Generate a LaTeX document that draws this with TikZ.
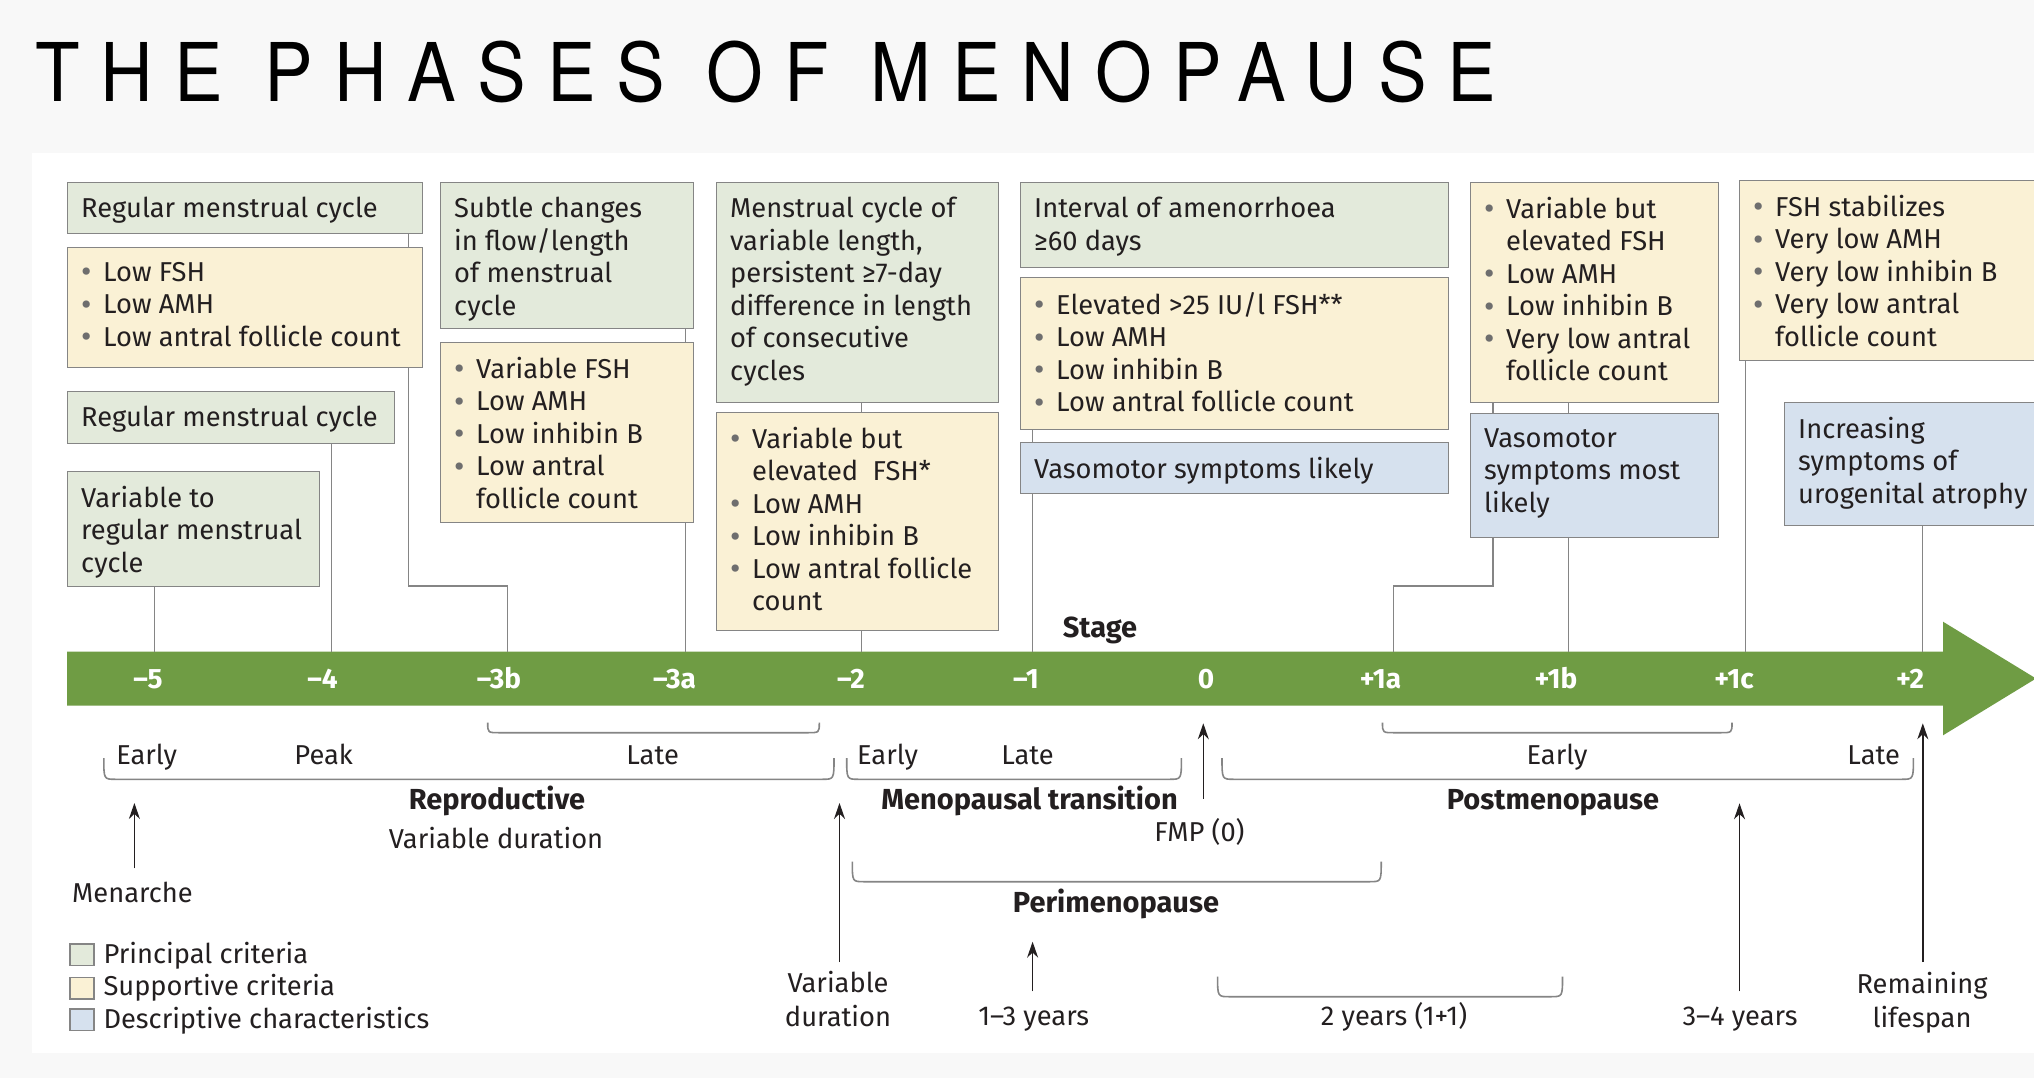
\documentclass[tikz,border=0pt]{standalone}
\usepackage{graphicx}
\usepackage{fontspec}
\usetikzlibrary{arrows.meta}
\setmainfont{Fira Sans}
\newfontfamily\titlefont[FakeStretch=0.9,LetterSpace=26]{TeX Gyre Heros}
\definecolor{gfill}{HTML}{E3EADB}
\definecolor{yfill}{HTML}{FAF1D5}
\definecolor{bfill}{HTML}{D6E1EE}
\definecolor{edge}{HTML}{858585}
\definecolor{barg}{HTML}{6F9C44}
\definecolor{ink}{HTML}{231F20}
\definecolor{dotc}{HTML}{6E6E6E}
\definecolor{bgc}{HTML}{F8F8F8}
\newcommand\bodyfont{\fontsize{27.3}{32.5}\selectfont}
\newcommand\bl{\makebox[22pt][l]{\raisebox{-1.5pt}{\textcolor{dotc}{\fontsize{32}{32}\selectfont •}}}}
\newcommand\ind{\makebox[22pt][l]{}}
\newcommand\mybox[7]{%
  \node[#2, minimum width=#5pt-#3pt, minimum height=#6pt-#4pt] (#1) at (#3,#4) {};
  \node[txt] (#1-t) at ([xshift=14pt,yshift=-15pt]#1.north west) {#7};
}
\newcommand\mybrace[4]{%
  \draw[bracel] (#1,#3) .. controls (#1,#4) .. (#1+12,#4) -- (#2-12,#4) .. controls (#2,#4) .. (#2,#3);
}
\tikzset{
  boxb/.style={draw=edge, line width=1.4pt, rectangle, inner sep=0pt, anchor=north west},
  gbox/.style={boxb, fill=gfill},
  ybox/.style={boxb, fill=yfill},
  bbox/.style={boxb, fill=bfill},
  txt/.style={anchor=north west, inner sep=0pt, align=left, font=\bodyfont, text=ink},
  conn/.style={draw=edge, line width=1.3pt},
  bracel/.style={draw=edge, line width=1.6pt},
  lbl/.style={anchor=base, inner sep=0pt, font=\bodyfont, text=ink},
  blbl/.style={anchor=base, inner sep=0pt, font=\fontsize{29}{32}\selectfont\bfseries, text=ink},
  two/.style={anchor=north, inner sep=0pt, align=center, font=\fontsize{27.3}{34}\selectfont, text=ink},
  stg/.style={anchor=base, inner sep=0pt, font=\fontsize{28}{28}\selectfont\bfseries, text=white},
  arr/.style={-{Stealth[length=16pt,width=11pt]}, line width=1.4pt, draw=ink},
}
\begin{document}
\begin{tikzpicture}[x=1pt,y=-1pt]
\useasboundingbox (0,0) rectangle (2034,1078);
\fill[bgc] (0,0) rectangle (2034,1078);
\fill[white] (32,153) rectangle (2034,1053);

% title
\node[anchor=base west, inner sep=0pt, font=\titlefont\fontsize{81}{81}\selectfont, text=black] (title) at (35,101.7) {THE PHASES OF MENOPAUSE};

% stage bar
\fill[barg] (67,651.5) -- (1943,651.5) -- (1943,621.7) -- (2036,678.5) -- (1943,735.3) -- (1943,705.5) -- (67,705.5) -- cycle;
\coordinate (t5) at (154.7,651.5);
\coordinate (t4) at (331.3,651.5);
\coordinate (t3b) at (507.7,651.5);
\coordinate (t3a) at (685.2,651.5);
\coordinate (t2) at (861.5,651.5);
\coordinate (t1) at (1032.8,651.5);
\coordinate (t1a) at (1393.7,651.5);
\coordinate (t1b) at (1568.4,651.5);
\coordinate (t1c) at (1745.6,651.5);
\coordinate (t2p) at (1922.6,651.5);

\node[stg] (s-5) at (148,688.5) {–5};
\node[stg] (s-4) at (322.5,688.5) {–4};
\node[stg] (s-3b) at (499,688.5) {–3b};
\node[stg] (s-3a) at (674.6,688.5) {–3a};
\node[stg] (s-2) at (851,688.5) {–2};
\node[stg] (s-1) at (1026,688.5) {–1};
\node[stg] (s0) at (1206,688.5) {0};
\node[stg] (s1a) at (1380.5,688.5) {+1a};
\node[stg] (s1b) at (1556,688.5) {+1b};
\node[stg] (s1c) at (1734,688.5) {+1c};
\node[stg] (s2) at (1910,688.5) {+2};
\node[blbl] (stage) at (1100,637) {Stage};

% boxes
\mybox{a1}{gbox}{67}{182}{422}{233}{Regular menstrual cycle}
\mybox{a2}{ybox}{67}{247}{422}{367}{\bl Low FSH\\\bl Low AMH\\\bl Low antral follicle count}
\mybox{a3}{gbox}{67}{391}{394}{443}{Regular menstrual cycle}
\mybox{a4}{gbox}{67}{471}{319}{586}{Variable to\\regular menstrual\\cycle}
\mybox{b1}{gbox}{440}{182}{693}{328}{Subtle changes\\in flow/length\\of menstrual\\cycle}
\mybox{b2}{ybox}{440}{342}{693}{522}{\bl Variable FSH\\\bl Low AMH\\\bl Low inhibin B\\\bl Low antral\\\ind follicle count}
\mybox{c1}{gbox}{716}{182}{998}{402}{Menstrual cycle of\\variable length,\\persistent ≥7-day\\difference in length\\of consecutive\\cycles}
\mybox{c2}{ybox}{716}{412}{998}{630}{\bl Variable but\\\ind elevated\ \ FSH*\\\bl Low AMH\\\bl Low inhibin B\\\bl Low antral follicle\\\ind count}
\mybox{d1}{gbox}{1020}{182}{1448}{267}{Interval of amenorrhoea\\≥60 days}
\mybox{d2}{ybox}{1020}{277}{1448}{429}{\bl Elevated >25 IU/l FSH**\\\bl Low AMH\\\bl Low inhibin B\\\bl Low antral follicle count}
\mybox{d3}{bbox}{1020}{442}{1448}{493}{Vasomotor symptoms likely}
\mybox{e1}{ybox}{1470}{182}{1718}{402}{\bl Variable but\\\ind elevated FSH\\\bl Low AMH\\\bl Low inhibin B\\\bl Very low antral\\\ind follicle count}
\mybox{e2}{bbox}{1470}{413}{1718}{537}{Vasomotor\\symptoms most\\likely}
\mybox{f1}{ybox}{1739}{180}{2045}{360}{\bl FSH stabilizes\\\bl Very low AMH\\\bl Very low inhibin B\\\bl Very low antral\\\ind follicle count}
\mybox{f2}{bbox}{1784}{402}{2045}{525}{Increasing\\symptoms of\\urogenital atrophy}

% connectors
\draw[conn] ([xshift=-15pt]a1.south east) -- ([xshift=-15pt]a2.north east);
\coordinate (k3b) at (507.7,586);
\draw[conn] ([xshift=-15pt]a2.south east) |- (k3b) -- (t3b);
\draw[conn] (a3.south -| t4) -- (t4);
\draw[conn] (a4.south -| t5) -- (t5);
\draw[conn] (b1.south -| t3a) -- (b2.north -| t3a);
\draw[conn] (b2.south -| t3a) -- (t3a);
\draw[conn] (c1.south -| t2) -- (c2.north -| t2);
\draw[conn] (c2.south -| t2) -- (t2);
\draw[conn] (d2.south -| t1) -- (d3.north -| t1);
\draw[conn] (d3.south -| t1) -- (t1);
\coordinate (e1x) at (1493,0);
\draw[conn] (e1.south -| e1x) -- (e2.north -| e1x);
\draw[conn] (e1.south -| t1b) -- (e2.north -| t1b);
\coordinate (k1a) at (1393.7,586);
\draw[conn] (e2.south -| e1x) |- (k1a) -- (t1a);
\draw[conn] (e2.south -| t1b) -- (t1b);
\draw[conn] (f1.south -| t1c) -- (t1c);
\draw[conn] (f2.south -| t2p) -- (t2p);

% braces
\mybrace{487.7}{819.3}{722.7}{732.7}
\mybrace{1382.5}{1732}{722.7}{732.7}
\mybrace{103.8}{834}{758}{779.3}
\mybrace{846.7}{1181.4}{758}{779.3}
\mybrace{1222}{1913.4}{758}{779.3}
\mybrace{852.3}{1381.2}{861.7}{881.7}
\mybrace{1217.6}{1562.5}{976.7}{996.7}

% labels under bar
\node[lbl] (l-early1) at (146.7,764) {Early};
\node[lbl] (l-peak) at (323.7,764) {Peak};
\node[lbl] (l-late1) at (652.6,764) {Late};
\node[lbl] (l-early2) at (887.5,764) {Early};
\node[lbl] (l-late2) at (1027.5,764) {Late};
\node[lbl] (l-early3) at (1557,764) {Early};
\node[lbl] (l-late3) at (1873.7,764) {Late};
\node[blbl] (repro) at (497,809) {Reproductive};
\node[blbl] (mt) at (1029.5,809) {Menopausal transition};
\node[blbl] (post) at (1553,809) {Postmenopause};
\node[lbl] (vardur1) at (496,848) {Variable duration};
\node[lbl] (fmp) at (1199.5,841) {FMP (0)};
\node[lbl] (men) at (132.5,902) {Menarche};
\node[blbl] (peri) at (1116,912) {Perimenopause};
\node[two] (vardur2) at (838,971) {Variable\\duration};
\node[two] (remain) at (1922,972) {Remaining\\lifespan};
\node[lbl] (y13) at (1033.7,1025) {1–3 years};
\node[lbl] (y2) at (1394,1025) {2 years (1+1)};
\node[lbl] (y34) at (1740,1025) {3–4 years};

% arrows
\coordinate (menTip) at (134.4,803);
\draw[arr, shorten <=13pt] (men.north -| menTip) -- (menTip);
\coordinate (vdTip) at (839.5,803);
\draw[arr, shorten <=9pt] (vardur2.north -| vdTip) -- (vdTip);
\coordinate (fmpTip) at (1203.3,723.3);
\draw[arr, shorten <=19pt] (fmp.north -| fmpTip) -- (fmpTip);
\coordinate (y13Tip) at (1032.6,941.7);
\draw[arr, shorten <=15pt] (y13.north -| y13Tip) -- (y13Tip);
\coordinate (y34Tip) at (1739.5,803.3);
\draw[arr, shorten <=15pt] (y34.north -| y34Tip) -- (y34Tip);
\coordinate (remTip) at (1922.8,723.3);
\draw[arr, shorten <=10pt] (remain.north -| remTip) -- (remTip);

% legend
\node[boxb, fill=gfill, line width=1.2pt, minimum width=24pt, minimum height=21.7pt] (lg1) at (69.3,943.3) {};
\node[boxb, fill=yfill, line width=1.2pt, minimum width=24pt, minimum height=21.7pt] (lg2) at (69.3,976.7) {};
\node[boxb, fill=bfill, line width=1.2pt, minimum width=24pt, minimum height=21.7pt] (lg3) at (69.3,1008.3) {};
\node[lbl, anchor=base west] (lg1-t) at (103.3,963.3) {Principal criteria};
\node[lbl, anchor=base west] (lg2-t) at (103.3,995) {Supportive criteria};
\node[lbl, anchor=base west] (lg3-t) at (103.3,1028) {Descriptive characteristics};
\end{tikzpicture}
\end{document}
